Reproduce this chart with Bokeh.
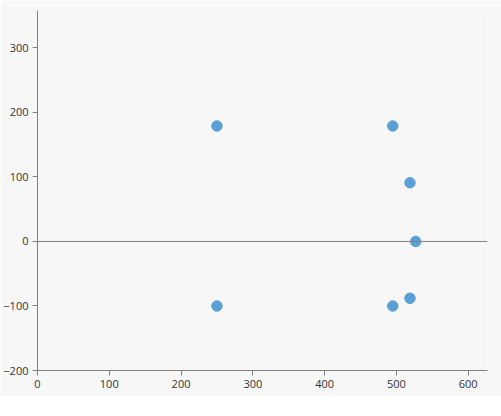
from bokeh.plotting import figure
from bokeh.models import Range1d, FixedTicker, Span, ColumnDataSource
from bokeh.embed import file_html
from bokeh.resources import INLINE

# Data
x_values = [250, 495, 519, 527, 519, 495, 250]
y_values = [179, 179, 91, 0, -88, -100, -100]

x_ticks = [0, 100, 200, 300, 400, 500, 600]
y_ticks = [-200, -100, 0, 100, 200, 300]

x_min, x_max = 0, 627
y_min, y_max = -200, 358

BG = "#f7f7f7"
AXIS = "#808080"
TEXT = "#333333"
POINT = "#5aa0d6"
FONT = "Open Sans"

source = ColumnDataSource(data=dict(x=x_values, y=y_values))

p = figure(
    width=501, height=396,
    x_range=Range1d(x_min, x_max), y_range=Range1d(y_min, y_max),
    output_backend="svg", toolbar_location=None,
    min_border_left=36, min_border_top=10, min_border_right=14, min_border_bottom=26,
)
p.background_fill_color = BG
p.border_fill_color = BG
p.outline_line_color = None
p.xgrid.visible = False
p.ygrid.visible = False

p.add_layout(Span(location=0, dimension="width", line_color=AXIS, line_width=1))

p.scatter("x", "y", source=source, size=10.5, fill_color=POINT, line_color=POINT)

for ax, ticks in ((p.xaxis[0], x_ticks), (p.yaxis[0], y_ticks)):
    ax.ticker = FixedTicker(ticks=ticks)
    ax.axis_line_color = AXIS
    ax.major_tick_line_color = AXIS
    ax.minor_tick_line_color = None
    ax.major_tick_out = 5
    ax.major_tick_in = 0
    ax.major_label_text_font = FONT
    ax.major_label_text_font_size = "11px"
    ax.major_label_text_color = TEXT
    ax.major_label_standoff = 4

open("out.html", "w").write(file_html(p, INLINE))
